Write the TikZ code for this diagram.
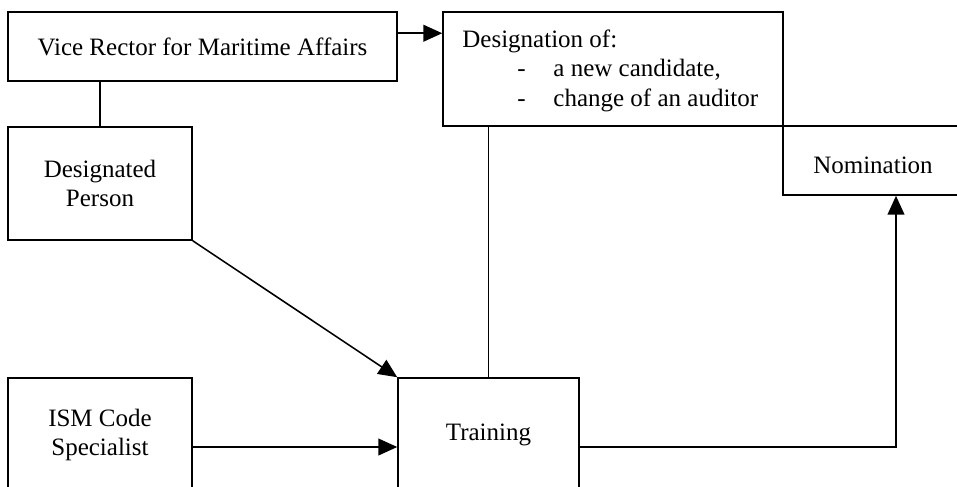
\documentclass[tikz,border=0pt]{standalone}
\usepackage{fontspec}
\setmainfont{Liberation Serif}
\usepackage{tikz}
\usetikzlibrary{arrows.meta}
\tikzstyle{flow_box}=[draw=black,line width=0.75pt,inner sep=2pt,align=center,font=\fontsize{12}{14.2}\selectfont]
\tikzstyle{arrow_line}=[line width=0.75pt,-{Triangle[length=9pt,width=8pt]}]
\tikzstyle{plain_line}=[line width=0.75pt]
\newcommand{\pxsize}{0.48pt}

\begin{document}
\begin{tikzpicture}[x=\pxsize,y=-\pxsize]
  \useasboundingbox (0,0) rectangle (957,486);
  \clip (0,0) rectangle (957,486);

  \node[flow_box,minimum width=389*\pxsize,minimum height=69*\pxsize] (rector) at (202.5,46.5) {Vice Rector for Maritime Affairs};
  \node[flow_box,minimum width=340*\pxsize,minimum height=114*\pxsize] (desig) at (613,69) {};
  \node[anchor=north west,inner sep=0pt,align=left,font=\fontsize{12}{14.2}\selectfont] (desigtext) at (462,29)
    {Designation of:\\\hspace*{26.4pt}\makebox[17.3pt][l]{-}a new candidate,\\\hspace*{26.4pt}\makebox[17.3pt][l]{-}change of an auditor};
  \node[flow_box,minimum width=180*\pxsize,minimum height=69*\pxsize] (nomin) at (873,160.5) {\raisebox{-2.5pt}[\height][0pt]{Nomination}};
  \node[flow_box,minimum width=184*\pxsize,minimum height=113*\pxsize] (dperson) at (100,183.5) {Designated\\Person};
  \node[flow_box,minimum width=184*\pxsize,minimum height=114*\pxsize] (ismspec) at (100,435) {ISM Code\\Specialist};
  \node[flow_box,minimum width=181*\pxsize,minimum height=114*\pxsize] (training) at (488.5,435) {Training};

  \draw [arrow_line] ([yshift=-22*\pxsize]rector.north east) -- ([yshift=-22*\pxsize]desig.north west);
  \draw [plain_line] (dperson.north) -- (dperson.north |- rector.south);
  \draw [arrow_line] (dperson.south east) -- (training.north west);
  \draw [plain_line] (training.north) -- (training.north |- desig.south);
  \draw [arrow_line] ([yshift=-12*\pxsize]ismspec.east) -- ([yshift=-12*\pxsize]training.west);
  \draw [arrow_line] ([yshift=-12*\pxsize]training.east) -| ([xshift=23*\pxsize]nomin.south);
\end{tikzpicture}
\end{document}
